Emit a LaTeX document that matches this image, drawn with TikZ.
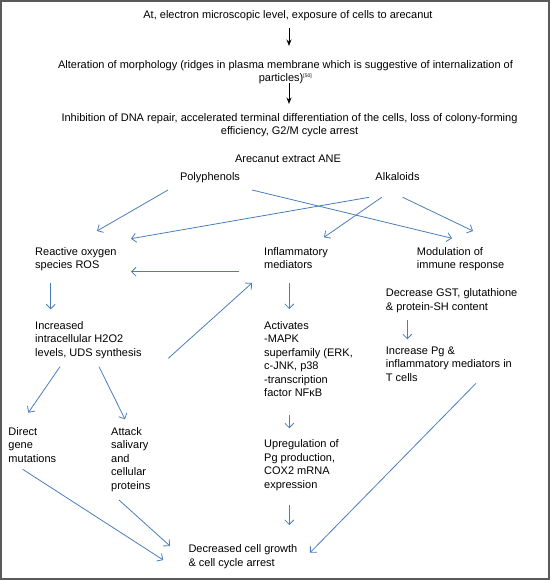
\documentclass[tikz,border=0pt]{standalone}
\usepackage{fontspec}
\setmainfont{Liberation Sans}
\usetikzlibrary{arrows.meta}
\definecolor{arrblue}{RGB}{74,126,187}
\definecolor{framegray}{RGB}{90,90,90}
\begin{document}
\begin{tikzpicture}[x=1pt,y=-1pt,
 txt/.style={inner sep=0pt, anchor=north west, align=left, font=\fontsize{11}{13.5}\selectfont},
 ctxt/.style={inner sep=0pt, anchor=north, align=center, font=\fontsize{11}{12.6}\selectfont},
 barrow/.style={draw=arrblue, line width=0.8pt, -{Straight Barb[length=4.5pt,width=9pt]}},
 karrow/.style={draw=black, line width=1pt, -{Stealth[length=6.5pt,width=5pt]}}]
\useasboundingbox (0,0) rectangle (550,580);
\draw[framegray, line width=2pt] (1,1) rectangle (549,579);

\node[ctxt] (top1) at (288,10.5) {At, electron microscopic level, exposure of cells to arecanut};
\node[ctxt] (top2) at (285.5,60.5) {Alteration of morphology (ridges in plasma membrane which is suggestive of internalization of\\particles)\textsuperscript{\tiny[50]}};
\node[ctxt] (top3) at (289.5,113.5) {Inhibition of DNA repair, accelerated terminal differentiation of the cells, loss of colony-forming\\efficiency, G2/M cycle arrest};

\node[ctxt] (ane) at (288,154.5) {Arecanut extract ANE};
\node[ctxt] (poly) at (210,172.2) {Polyphenols};
\node[ctxt] (alk) at (397.5,172.2) {Alkaloids};

\node[txt] (ros) at (35,247.2) {Reactive oxygen\\species ROS};
\node[txt] (inf) at (264,247.2) {Inflammatory\\mediators};
\node[txt] (mod) at (416.7,247.2) {Modulation of\\immune response};
\node[txt] (dec) at (385.7,288.8) {Decrease GST, glutathione\\\& protein-SH content};
\node[txt] (incpg) at (385.7,346.5) {Increase Pg \&\\inflammatory mediators in\\T cells};
\node[txt] (incr) at (35,321.2) {Increased\\intracellular H2O2\\levels, UDS synthesis};
\node[txt] (act) at (264,321.2) {Activates\\-MAPK\\superfamily (ERK,\\c-JNK, p38\\-transcription\\factor NFκB};
\node[txt] (direct) at (8.3,427.2) {Direct\\gene\\mutations};
\node[txt] (attack) at (111,427.2) {Attack\\salivary\\and\\cellular\\proteins};
\node[txt] (upreg) at (264,439.5) {Upregulation of\\Pg production,\\COX2 mRNA\\expression};
\node[txt] (decr) at (188.3,544.8) {Decreased cell growth\\\& cell cycle arrest};

% connector end points
\coordinate (a1s) at (289,28);   \coordinate (a1e) at (289,46);
\coordinate (a2s) at (289,83);   \coordinate (a2e) at (289,104);
\coordinate (p1s) at (168,190);  \coordinate (p1e) at (97,231);
\coordinate (p2s) at (252,190);  \coordinate (p2e) at (452,238.3);
\coordinate (k1s) at (369,197.3);  \coordinate (k1e) at (131,238.7);
\coordinate (k2s) at (381.7,197.3);\coordinate (k2e) at (324,237.3);
\coordinate (k3s) at (402.7,197.3);\coordinate (k3e) at (473,231);
\coordinate (i1s) at (239,271.7);  \coordinate (i1e) at (131,271.7);
\coordinate (r1s) at (50.7,283.3); \coordinate (r1e) at (50.7,309.3);
\coordinate (i2s) at (289.3,283);  \coordinate (i2e) at (289.3,309);
\coordinate (h1s) at (168.3,358.3);\coordinate (h1e) at (252,283);
\coordinate (d1s) at (407.3,320);  \coordinate (d1e) at (407.3,339.3);
\coordinate (h2s) at (60,366.7);   \coordinate (h2e) at (28.3,412.7);
\coordinate (h3s) at (99,366.7);   \coordinate (h3e) at (125,419.3);
\coordinate (a3s) at (289.3,415);  \coordinate (a3e) at (289.3,428.3);
\coordinate (u1s) at (289.3,505);  \coordinate (u1e) at (289.3,525);
\coordinate (g1s) at (476,383.3);  \coordinate (g1e) at (310,552.7);
\coordinate (m1s) at (22.7,469.3); \coordinate (m1e) at (163.3,560);
\coordinate (m2s) at (119,500);    \coordinate (m2e) at (170,546);

\draw[karrow] (a1s) -- (a1e);
\draw[karrow] (a2s) -- (a2e);
\draw[barrow] (p1s) -- (p1e);
\draw[barrow] (p2s) -- (p2e);
\draw[barrow] (k1s) -- (k1e);
\draw[barrow] (k2s) -- (k2e);
\draw[barrow] (k3s) -- (k3e);
\draw[barrow] (i1s) -- (i1e);
\draw[barrow] (r1s) -- (r1e);
\draw[barrow] (i2s) -- (i2e);
\draw[barrow] (h1s) -- (h1e);
\draw[barrow] (d1s) -- (d1e);
\draw[barrow] (h2s) -- (h2e);
\draw[barrow] (h3s) -- (h3e);
\draw[barrow] (a3s) -- (a3e);
\draw[barrow] (u1s) -- (u1e);
\draw[barrow] (g1s) -- (g1e);
\draw[barrow] (m1s) -- (m1e);
\draw[barrow] (m2s) -- (m2e);
\end{tikzpicture}
\end{document}
